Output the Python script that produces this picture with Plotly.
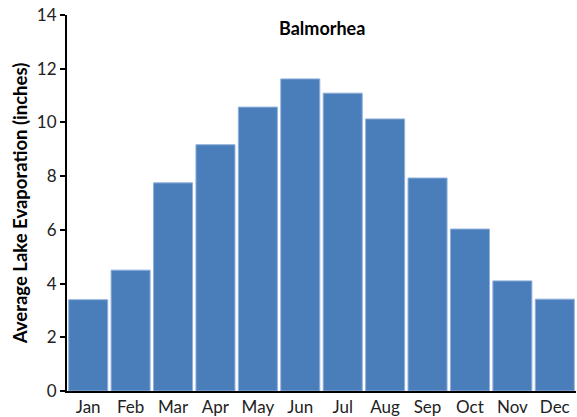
import plotly.graph_objects as go

months = ['Jan', 'Feb', 'Mar', 'Apr', 'May', 'Jun', 'Jul', 'Aug', 'Sep', 'Oct', 'Nov', 'Dec']
evaporation = [3.4, 4.5, 7.75, 9.17, 10.57, 11.62, 11.09, 10.13, 7.93, 6.03, 4.1, 3.42]
y_ticks = [0, 2, 4, 6, 8, 10, 12, 14]

fig = go.Figure(
    go.Bar(
        x=months,
        y=evaporation,
        marker=dict(color='#4A7EBB', line=dict(color='#8FB0DA', width=1)),
    )
)

fig.update_layout(
    width=577,
    height=417,
    margin=dict(l=67, r=1, t=15, b=26),
    plot_bgcolor='white',
    paper_bgcolor='white',
    bargap=0.08,
    showlegend=False,
    font=dict(family='Lato', color='#222222'),
    xaxis=dict(
        showline=True,
        linecolor='black',
        linewidth=2,
        ticks='',
        tickfont=dict(size=17),
        showgrid=False,
    ),
    yaxis=dict(
        range=[0, 14],
        tickvals=y_ticks,
        showline=True,
        linecolor='black',
        linewidth=2,
        ticks='outside',
        ticklen=5,
        tickwidth=2,
        tickcolor='black',
        tickfont=dict(size=17),
        showgrid=False,
        zeroline=False,
        title=dict(
            text='<b>Average Lake Evaporation (inches)</b>',
            font=dict(size=18.5, color='black'),
            standoff=4,
        ),
    ),
)

fig.add_annotation(
    x=0.5,
    y=0.965,
    xref='paper',
    yref='paper',
    yanchor='middle',
    text='<b>Balmorhea</b>',
    showarrow=False,
    font=dict(size=18, color='black'),
)

# page has a default body margin, drop it so the figure fills the window
fig.write_html('out.html', config={'displayModeBar': False},
               post_script="document.body.style.margin='0';")
